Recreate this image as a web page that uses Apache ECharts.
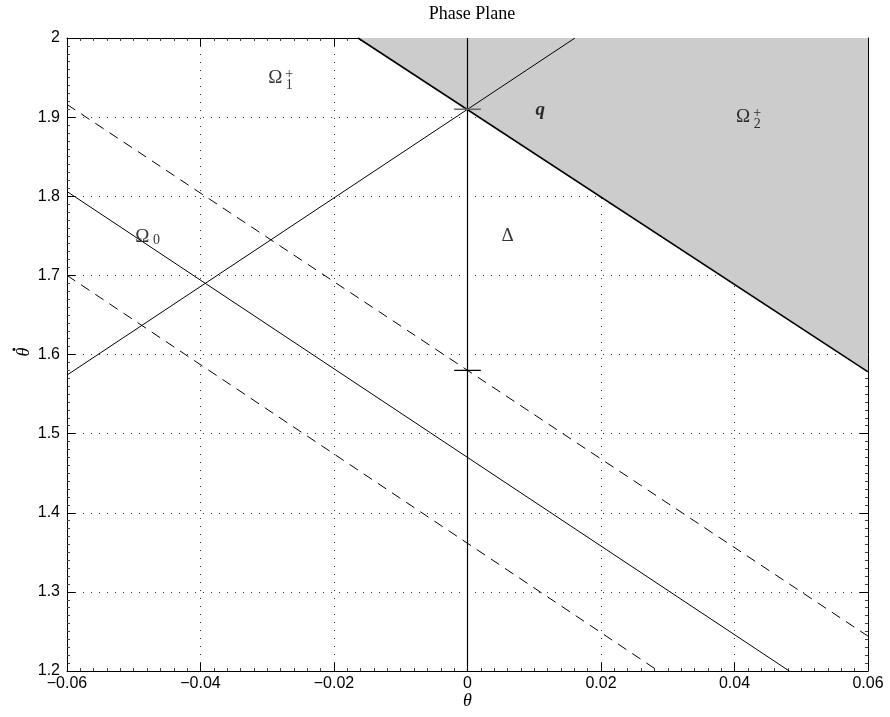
<!DOCTYPE html>
<html><head><meta charset="utf-8">
<script src="https://cdn.jsdelivr.net/npm/echarts@6/dist/echarts.min.js"></script>
<style>html,body{margin:0;padding:0;background:#fff}#c{width:890px;height:717px}</style>
</head><body><div id="c"></div>
<script>
// ---- data ----
const xRange = [-0.06, 0.06];
const yRange = [1.2, 2.0];
const xStep = 0.02;
const yStep = 0.1;
const shadedBoundary = [[-0.0164, 2.0], [0.06, 1.578]];
const risingLine = [[-0.06, 1.574], [0.0161, 2.0]];
const omega0Line = [[-0.06, 1.806], [0.0482, 1.2]];
const upperDashed = [[-0.06, 1.916], [0.06, 1.244]];
const lowerDashed = [[-0.06, 1.700], [0.0286, 1.2]];
const zeroLine = [[0, 1.2], [0, 2.0]];
const markQ = [[-0.002, 1.91], [0.002, 1.91]];
const markMid = [[-0.002, 1.58], [0.002, 1.58]];
const labelNames = ['Ω', 'Ω', 'Ω', 'Δ', 'q'];
const labelX = [-0.0288, 0.0413, -0.0487, 0.0060, 0.0109];
const labelY = [1.950, 1.900, 1.749, 1.750, 1.909];
const scriptTexts = ['+\n1', '+\n2', '0', '', ''];

const serif = '"Liberation Serif", "DejaVu Serif", serif';
const sans = '"Liberation Sans", Arial, sans-serif';

function fmtX(v){ if (Math.abs(v) < 1e-9) return '0'; return v.toFixed(2).replace('-', '\u2212'); }
function fmtY(v){ return parseFloat(v.toFixed(1)).toString(); }

const mainLabels = labelNames.map((t, i) => ({
  value: [labelX[i], labelY[i]],
  label: {
    formatter: t,
    fontSize: 19,
    fontStyle: t === 'q' ? 'italic' : 'normal',
    fontWeight: t === 'q' ? 'bold' : 'normal'
  }
}));
const scriptLabels = [];
scriptTexts.forEach((t, i) => {
  if (!t) return;
  const isSub = t.indexOf('\n') < 0;
  scriptLabels.push({
    value: [labelX[i], labelY[i]],
    label: { formatter: t, offset: isSub ? [14, 4] : [14, 2] }
  });
});

const lineBase = { type: 'line', symbol: 'none', silent: true, animation: false, xAxisIndex: 0, yAxisIndex: 0 };

const option = {
  animation: false,
  backgroundColor: '#fff',
  title: {
    text: 'Phase Plane', left: 467, top: 0, textAlign: 'center',
    textStyle: { fontFamily: serif, fontSize: 18, fontWeight: 'normal', color: '#000' }
  },
  graphic: [
    { type: 'text', x: 24, y: 352, rotation: Math.PI / 2, silent: true,
      style: { text: 'θ', font: 'italic 18px "Liberation Serif", serif', fill: '#000', align: 'center', verticalAlign: 'middle' } },
    { type: 'text', x: 14, y: 351, silent: true,
      style: { text: '·', font: 'bold 18px "Liberation Serif", serif', fill: '#000', align: 'center', verticalAlign: 'middle' } }
  ],
  grid: { left: 67, right: 22, top: 38, bottom: 46, containLabel: false, outerBoundsMode: 'none' },
  xAxis: [{
    type: 'value', min: xRange[0], max: xRange[1], interval: xStep,
    name: 'θ', nameLocation: 'middle', nameGap: 21, nameMoveOverlap: false,
    nameTextStyle: { fontFamily: serif, fontStyle: 'italic', fontSize: 18, color: '#000' },
    axisLine: { show: true, onZero: false, lineStyle: { color: '#000', width: 1 } },
    axisTick: { show: true, inside: true, length: 8, lineStyle: { color: '#000' } },
    minorTick: { show: true, splitNumber: 10, length: 3, lineStyle: { color: '#444' } },
    axisLabel: { formatter: fmtX, fontFamily: sans, fontSize: 16, color: '#000', margin: 5 },
    splitLine: { show: true, lineStyle: { color: '#333', type: [1, 7], width: 1 } }
  }, {
    type: 'value', position: 'top', min: xRange[0], max: xRange[1], interval: xStep,
    axisLine: { show: true, onZero: false, lineStyle: { color: '#000', width: 1 } },
    axisTick: { show: true, inside: true, length: 8, lineStyle: { color: '#000' } },
    minorTick: { show: true, splitNumber: 10, length: 3, lineStyle: { color: '#444' } },
    axisLabel: { show: false }, splitLine: { show: false }
  }],
  yAxis: [{
    type: 'value', min: yRange[0], max: yRange[1], interval: yStep,
    axisLine: { show: true, onZero: false, lineStyle: { color: '#000', width: 1 } },
    axisTick: { show: true, inside: true, length: 8, lineStyle: { color: '#000' } },
    minorTick: { show: true, splitNumber: 10, length: 3, lineStyle: { color: '#444' } },
    axisLabel: { formatter: fmtY, fontFamily: sans, fontSize: 16, color: '#000', margin: 7 },
    splitLine: { show: true, lineStyle: { color: '#333', type: [1, 7], width: 1 } }
  }, {
    type: 'value', position: 'right', min: yRange[0], max: yRange[1], interval: yStep,
    axisLine: { show: true, onZero: false, lineStyle: { color: '#000', width: 1 } },
    axisTick: { show: true, inside: true, length: 8, lineStyle: { color: '#000' } },
    minorTick: { show: true, splitNumber: 10, length: 3, lineStyle: { color: '#444' } },
    axisLabel: { show: false }, splitLine: { show: false }
  }],
  series: [
    Object.assign({}, lineBase, {
      data: shadedBoundary, z: 1,
      lineStyle: { color: '#000', width: 1.6 },
      areaStyle: { color: '#cccccc', opacity: 1, origin: 'end' }
    }),
    Object.assign({}, lineBase, { data: risingLine, z: 3, lineStyle: { color: '#000', width: 1 } }),
    Object.assign({}, lineBase, { data: zeroLine, z: 3, lineStyle: { color: '#000', width: 1.2 } }),
    Object.assign({}, lineBase, { data: omega0Line, z: 3, lineStyle: { color: '#000', width: 1 } }),
    Object.assign({}, lineBase, { data: upperDashed, z: 3, lineStyle: { color: '#000', width: 1, type: [10, 7] } }),
    Object.assign({}, lineBase, { data: lowerDashed, z: 3, lineStyle: { color: '#000', width: 1, type: [10, 7] } }),
    Object.assign({}, lineBase, { data: markQ, z: 4, lineStyle: { color: '#666', width: 1.5 } }),
    Object.assign({}, lineBase, { data: markMid, z: 4, lineStyle: { color: '#000', width: 1.2 } }),
    {
      type: 'scatter', symbolSize: 0, silent: true, z: 5, data: mainLabels,
      label: { show: true, position: 'inside', align: 'center', verticalAlign: 'middle',
               fontFamily: serif, fontSize: 19, color: '#000' }
    },
    {
      type: 'scatter', symbolSize: 0, silent: true, z: 5, data: scriptLabels,
      label: { show: true, position: 'inside', align: 'center', verticalAlign: 'middle',
               fontFamily: serif, fontSize: 14, lineHeight: 11, color: '#000' }
    }
  ]
};
const chart = echarts.init(document.getElementById('c'), null, { renderer: 'canvas' });
chart.setOption(option);
</script>
</body></html>
